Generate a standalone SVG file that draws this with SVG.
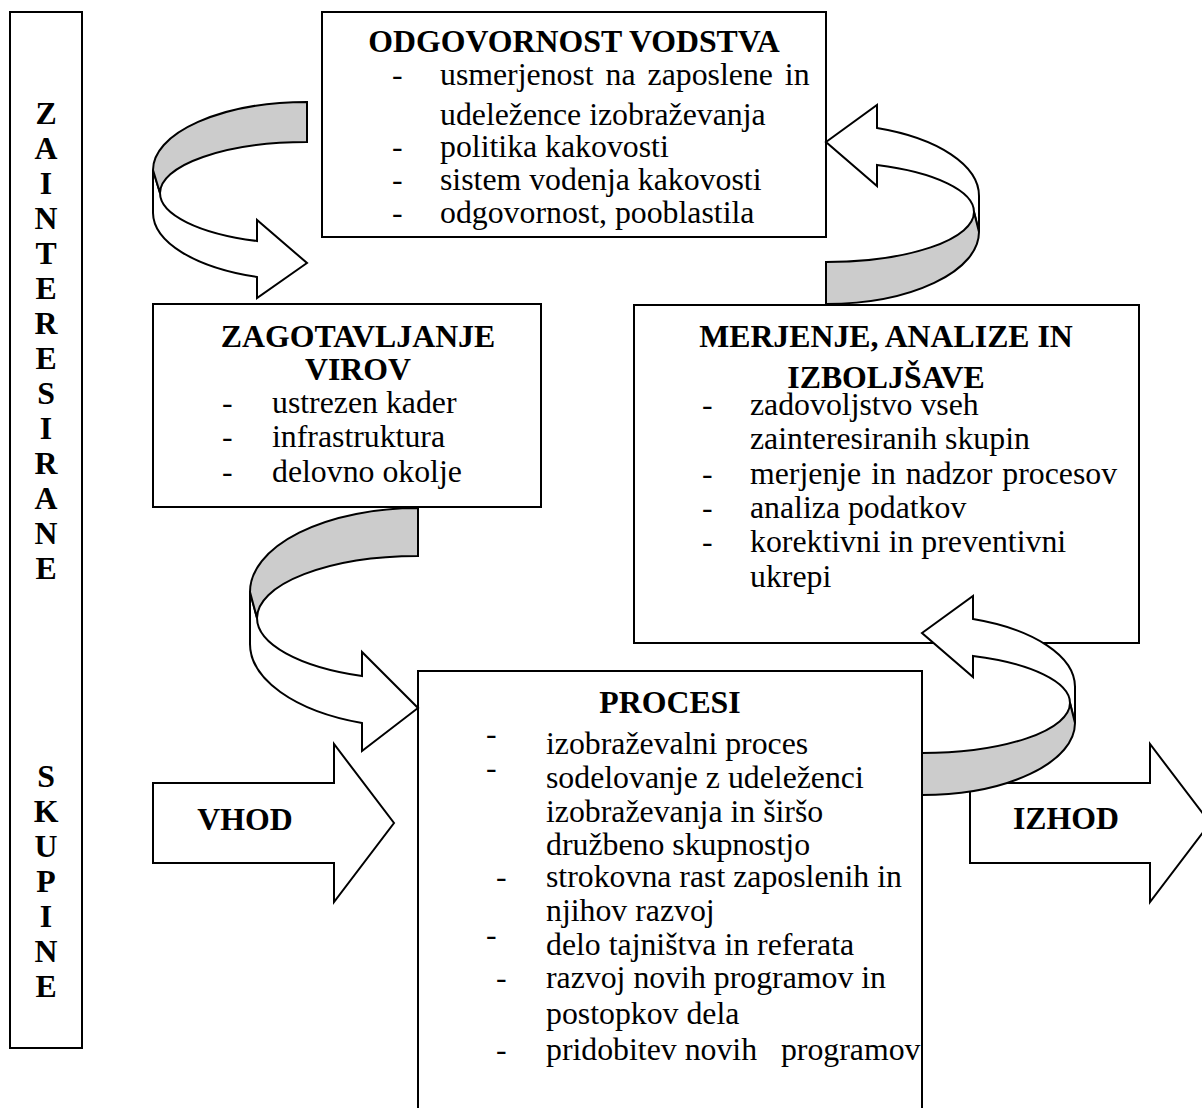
<svg xmlns="http://www.w3.org/2000/svg" width="1202" height="1108" viewBox="0 0 1202 1108">
<style>
.box{fill:#fff;stroke:#000;stroke-width:2}
.arr{fill:#fff;stroke:#000;stroke-width:2;stroke-linejoin:miter}
.back{fill:#cccccc;stroke:#000;stroke-width:2;stroke-linejoin:miter}
text{font-family:"Liberation Serif","Times New Roman",serif;font-size:31.8px;fill:#000}
.t{font-weight:bold;text-anchor:middle}
.v{font-weight:bold;text-anchor:middle}
</style>
<defs>
<g id="curveR">
<path class="arr" d="M1075,723 L1075,687 A153,72 0 0 0 973,619 L973,596 L922,633 L973,677 L973,656 A148,50 0 0 1 1070,703 Z"/>
<path class="back" d="M922,795 A153,72 0 0 0 1075,723 L1070,703 A148,50 0 0 1 922,753 Z"/>
</g>
</defs>

<g id="side">
<rect class="box" x="10" y="12" width="72" height="1036"/>
<text class="v" x="46" y="124">Z</text>
<text class="v" x="46" y="159">A</text>
<text class="v" x="46" y="194">I</text>
<text class="v" x="46" y="229">N</text>
<text class="v" x="46" y="264">T</text>
<text class="v" x="46" y="299">E</text>
<text class="v" x="46" y="334">R</text>
<text class="v" x="46" y="369">E</text>
<text class="v" x="46" y="404">S</text>
<text class="v" x="46" y="439">I</text>
<text class="v" x="46" y="474">R</text>
<text class="v" x="46" y="509">A</text>
<text class="v" x="46" y="544">N</text>
<text class="v" x="46" y="579">E</text>
<text class="v" x="46" y="787">S</text>
<text class="v" x="46" y="822">K</text>
<text class="v" x="46" y="857">U</text>
<text class="v" x="46" y="892">P</text>
<text class="v" x="46" y="927">I</text>
<text class="v" x="46" y="962">N</text>
<text class="v" x="46" y="997">E</text>
</g>

<g id="odgovornost">
<rect class="box" x="322" y="12" width="504" height="225"/>
<text class="t" x="574" y="52">ODGOVORNOST VODSTVA</text>
<text x="392" y="85">-</text><text x="440" y="85" word-spacing="4">usmerjenost na zaposlene in</text>
<text x="440" y="125">udeležence izobraževanja</text>
<text x="392" y="157">-</text><text x="440" y="157">politika kakovosti</text>
<text x="392" y="190">-</text><text x="440" y="190">sistem vodenja kakovosti</text>
<text x="392" y="223">-</text><text x="440" y="223">odgovornost, pooblastila</text>
</g>

<g id="zagotavljanje">
<rect class="box" x="153" y="304" width="388" height="203"/>
<text class="t" x="358" y="347">ZAGOTAVLJANJE</text>
<text class="t" x="358" y="380">VIROV</text>
<text x="222" y="413">-</text><text x="272" y="413">ustrezen kader</text>
<text x="222" y="447">-</text><text x="272" y="447">infrastruktura</text>
<text x="222" y="482">-</text><text x="272" y="482">delovno okolje</text>
</g>

<g id="merjenje">
<rect class="box" x="634" y="305" width="505" height="338"/>
<text class="t" x="886" y="347">MERJENJE, ANALIZE IN</text>
<text class="t" x="886" y="388">IZBOLJŠAVE</text>
<text x="702" y="415">-</text><text x="750" y="415">zadovoljstvo vseh</text>
<text x="750" y="449">zainteresiranih skupin</text>
<text x="702" y="484">-</text><text x="750" y="484" word-spacing="2">merjenje in nadzor procesov</text>
<text x="702" y="518">-</text><text x="750" y="518">analiza podatkov</text>
<text x="702" y="552">-</text><text x="750" y="552">korektivni in preventivni</text>
<text x="750" y="587">ukrepi</text>
</g>

<g id="procesi">
<rect class="box" x="418" y="671" width="504" height="460"/>
<text class="t" x="670" y="713">PROCESI</text>
<text x="486" y="744">-</text><text x="546" y="754">izobraževalni proces</text>
<text x="486" y="778">-</text><text x="546" y="788">sodelovanje z udeleženci</text>
<text x="546" y="822">izobraževanja in širšo</text>
<text x="546" y="855">družbeno skupnostjo</text>
<text x="496" y="887">-</text><text x="546" y="887">strokovna rast zaposlenih in</text>
<text x="546" y="921">njihov razvoj</text>
<text x="486" y="945">-</text><text x="546" y="955">delo tajništva in referata</text>
<text x="496" y="988">-</text><text x="546" y="988">razvoj novih programov in</text>
<text x="546" y="1024">postopkov dela</text>
<text x="496" y="1060">-</text><text x="546" y="1060" xml:space="preserve">pridobitev novih   programov</text>
</g>

<g id="vhod">
<path class="arr" d="M153,783 L334,783 L334,744 L394,823 L334,902 L334,863 L153,863 Z"/>
<text class="t" x="245" y="830">VHOD</text>
</g>

<g id="izhod">
<path class="arr" d="M970,783 L1150,783 L1150,744 L1210,823 L1150,902 L1150,863 L970,863 Z"/>
<text class="t" x="1066" y="829">IZHOD</text>
</g>

<g id="connectors">
<g id="curve-top-left">
<path class="arr" d="M153,170 L153,213 A154,68 0 0 0 257,277 L257,298 L307,263 L257,220 L257,241 A147,51 0 0 1 160,193 Z"/>
<path class="back" d="M307,102 A154,68 0 0 0 153,170 L160,193 A147,51 0 0 1 307,142 Z"/>
</g>
<g id="curve-mid-left">
<path class="arr" d="M250,592 L250,643 A168,84 0 0 0 362,723 L362,751 L418,708 L362,652 L362,676 A161,62 0 0 1 257,618 Z"/>
<path class="back" d="M418,508 A168,84 0 0 0 250,592 L257,618 A161,62 0 0 1 418,556 Z"/>
</g>
<g id="curve-top-right">
<use href="#curveR" transform="translate(-96,-491)"/>
</g>
<g id="curve-bottom-right">
<use href="#curveR"/>
</g>
</g>
</svg>
